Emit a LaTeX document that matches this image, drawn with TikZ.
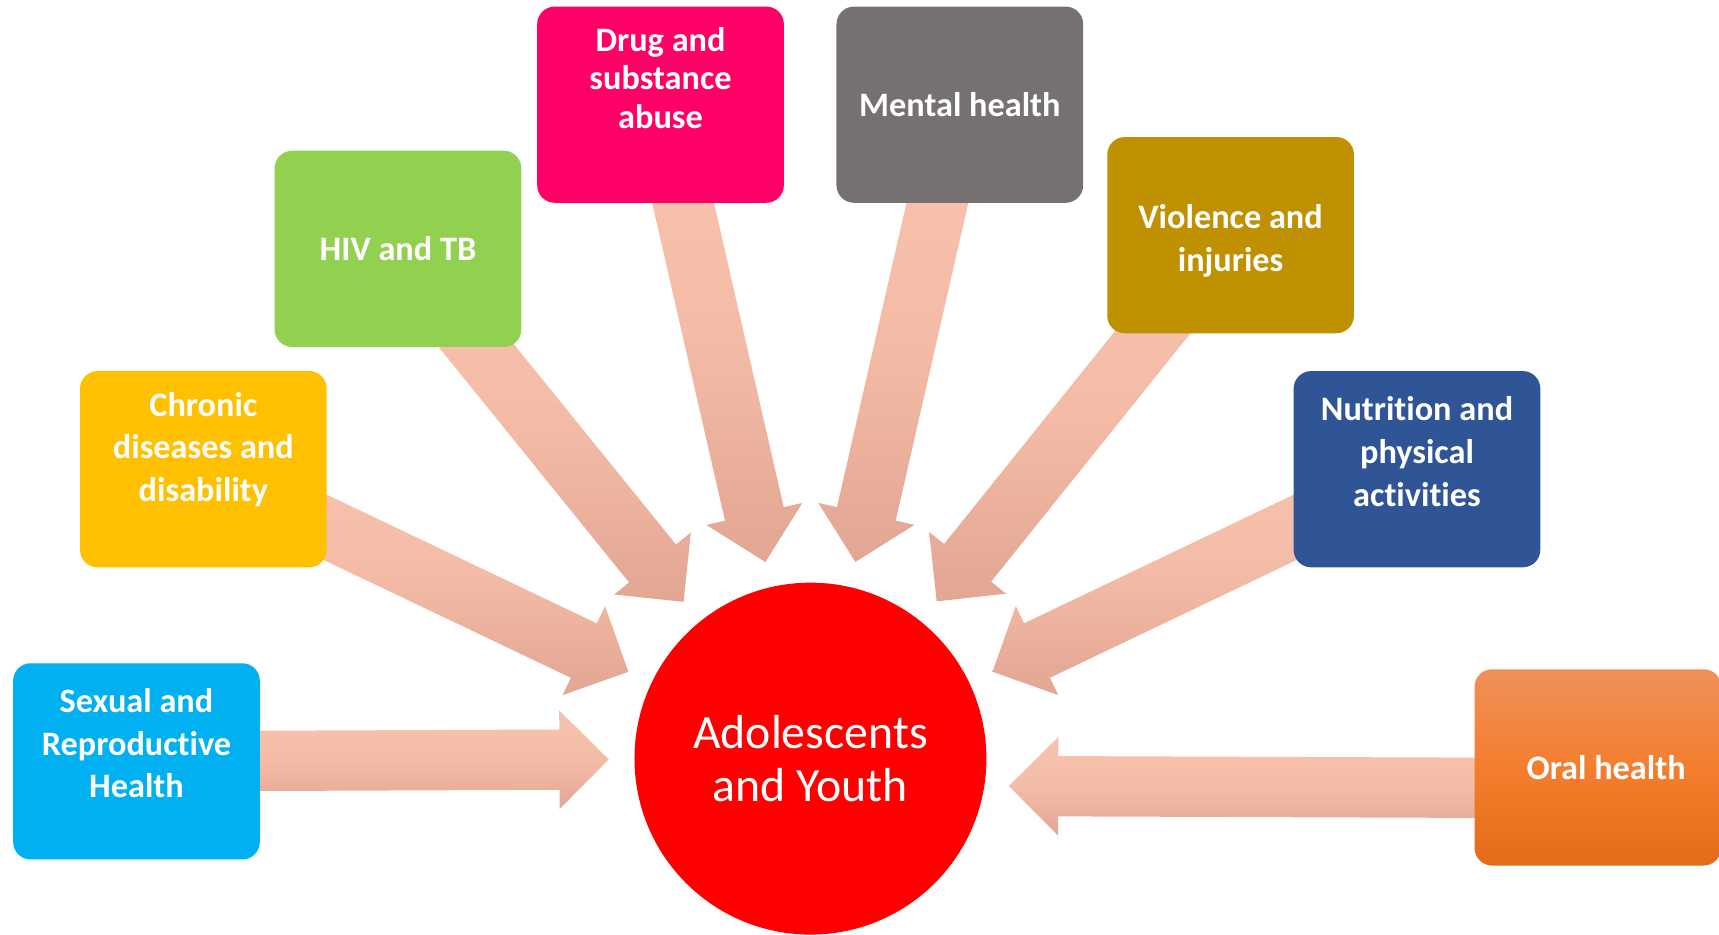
\documentclass[tikz,border=0pt]{standalone}
\usepackage{fontspec}
\setmainfont{Carlito}[Ligatures=CommonOff]
\usetikzlibrary{calc,backgrounds}
\definecolor{ay_red}{HTML}{FF0000}
\definecolor{srh_blue}{HTML}{00B0F0}
\definecolor{chronic_gold}{HTML}{FFC000}
\definecolor{hiv_green}{HTML}{92D050}
\definecolor{drug_pink}{HTML}{FF0066}
\definecolor{mental_grey}{HTML}{767171}
\definecolor{violence_ochre}{HTML}{BF9000}
\definecolor{nutrition_blue}{HTML}{2F5597}
\definecolor{oral_top}{HTML}{F0905A}
\definecolor{oral_mid}{HTML}{F47E2E}
\definecolor{oral_bot}{HTML}{E46C17}
\definecolor{arr_light}{HTML}{F7C3AE}
\definecolor{arr_mid}{HTML}{F4BCA7}
\definecolor{arr_dark}{HTML}{E2A693}

\tikzset{
    box/.style={rounded corners=0.16cm, minimum width=2.25cm, minimum height=1.79cm, inner sep=0pt},
    boxtxt/.style={text=white, align=center, font=\bfseries\fontsize{8.9}{11.1}\selectfont},
    arr/.style={top color=arr_light, bottom color=arr_dark, middle color=arr_mid}
}

\newcommand{\blockarrow}[2]{%
    \coordinate (hb) at ($(#2)!0.45cm!(#1)$);
    \path[arr] ($(#1)!0.275cm!90:(#2)$) -- ($(hb)!0.275cm!90:(#2)$) -- ($(hb)!0.45cm!90:(#2)$)
        -- (#2) -- ($(hb)!0.45cm!-90:(#2)$) -- ($(hb)!0.275cm!-90:(#2)$) -- ($(#1)!0.275cm!-90:(#2)$) -- cycle;
}

\begin{document}
\begin{tikzpicture}
        \path[use as bounding box, clip] (0,0) rectangle (15.68,8.52);

        \node[circle, fill=ay_red, minimum size=3.21cm, inner sep=0pt, text=white, align=center,
              font=\fontsize{12.4}{13.7}\selectfont] (ay) at (7.3925,1.60) {Adolescents\\and Youth};

        \node[box, fill=srh_blue] (srh) at (1.245,1.575) {};
        \node[boxtxt] (srh_t) at ([yshift=0.165cm]srh.center) {Sexual and\\Reproductive\\Health};

        \node[box, fill=chronic_gold] (chronic) at (1.855,4.24) {};
        \node[boxtxt] (chronic_t) at ([yshift=0.18cm]chronic.center) {Chronic\\diseases and\\disability};

        \node[box, fill=hiv_green] (hiv) at (3.63,6.25) {};
        \node[boxtxt] (hiv_t) at (hiv.center) {HIV and TB};

        \node[box, fill=drug_pink] (drug) at (6.025,7.565) {};
        \node[boxtxt, font=\bfseries\fontsize{8.9}{10}\selectfont] (drug_t) at ([yshift=0.245cm]drug.center) {Drug and\\substance\\abuse};

        \node[box, fill=mental_grey] (mental) at (8.755,7.565) {};
        \node[boxtxt] (mental_t) at (mental.center) {Mental health};

        \node[box, fill=violence_ochre] (violence) at (11.225,6.375) {};
        \node[boxtxt] (violence_t) at ([yshift=-0.05cm]violence.center) {Violence and\\injuries};

        \node[box, fill=nutrition_blue] (nutrition) at (12.925,4.24) {};
        \node[boxtxt] (nutrition_t) at ([yshift=0.16cm]nutrition.center) {Nutrition and\\physical\\activities};

        \node[box, top color=oral_top, bottom color=oral_bot, middle color=oral_mid] (oral) at (14.575,1.52) {};
        \node[boxtxt] (oral_t) at ([xshift=0.075cm]oral.center) {Oral health};

        \begin{scope}[on background layer]
            \foreach \b in {srh, chronic, hiv, drug, mental, violence, nutrition} {
                \coordinate (\b_tip) at ($(ay.center)!1.84cm!(\b.center)$);
                \blockarrow{\b.center}{\b_tip}
            }
            \coordinate (oral_tail) at ([yshift=-0.19cm]oral.center);
            \coordinate (oral_tip) at ([xshift=1.81cm, yshift=-0.25cm]ay.center);
            \blockarrow{oral_tail}{oral_tip}
        \end{scope}
\end{tikzpicture}
\end{document}
